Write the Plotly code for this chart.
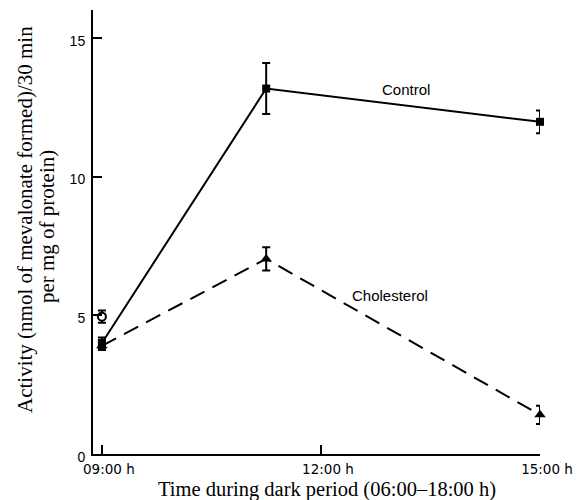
import plotly.graph_objects as go

# ---- data ----
time_h = [9.0, 11.25, 15.0]
control = [4.0, 13.17, 11.97]
control_err = [0.2, 0.92, 0.41]
cholesterol = [3.9, 7.03, 1.41]
cholesterol_err = [0.15, 0.42, 0.33]
zero_time = [9.0]
zero_value = [4.95]
zero_err = [0.22]

x_tick_vals = [9, 12, 15]
x_tick_text = ["09:00 h", "12:00 h", "15:00 h"]
y_tick_vals = [0, 5, 10, 15]

fig = go.Figure()

fig.add_trace(go.Scatter(
    x=time_h, y=control, mode="lines+markers", name="Control",
    line=dict(color="black", width=2),
    marker=dict(symbol="square", size=8, color="black"),
    error_y=dict(type="data", array=control_err, color="black", thickness=2, width=4),
    cliponaxis=False,
))
fig.add_trace(go.Scatter(
    x=time_h, y=cholesterol, mode="lines+markers", name="Cholesterol",
    line=dict(color="black", width=2, dash="16px,9px"),
    marker=dict(symbol="triangle-up", size=10, color="black"),
    error_y=dict(type="data", array=cholesterol_err, color="black", thickness=2, width=4),
    cliponaxis=False,
))
fig.add_trace(go.Scatter(
    x=zero_time, y=zero_value, mode="markers", name="Zero time",
    marker=dict(symbol="circle", size=8, color="white", line=dict(color="black", width=2)),
    error_y=dict(type="data", array=zero_err, color="black", thickness=2, width=4),
    cliponaxis=False,
))

label_font = dict(family="Liberation Sans", size=15, color="black")
fig.add_annotation(x=13.16, y=13.13, xref="x", yref="y", text="Control", showarrow=False,
                   font=label_font)
fig.add_annotation(x=12.95, y=5.70, xref="x", yref="y", text="Cholesterol", showarrow=False,
                   font=label_font)

serif = dict(family="Liberation Serif", size=21, color="black")
title_font = dict(family="Liberation Serif", size=20.5, color="black")
fig.add_annotation(xref="paper", yref="paper", x=0, y=0.527, xshift=-68, textangle=-90,
                   text="Activity (nmol of mevalonate formed)/30 min", showarrow=False,
                   xanchor="center", yanchor="middle", font=serif)
fig.add_annotation(xref="paper", yref="paper", x=0, y=0.511, xshift=-46, textangle=-90,
                   text="per mg of protein)", showarrow=False,
                   xanchor="center", yanchor="middle", font=serif)
fig.add_annotation(xref="paper", yref="paper", x=0.523, y=0, yshift=-35,
                   text="Time during dark period (06:00–18:00 h)", showarrow=False,
                   xanchor="center", yanchor="middle", font=title_font)

fig.update_layout(
    width=583, height=500,
    margin=dict(l=93, r=40, t=10, b=46),
    paper_bgcolor="white", plot_bgcolor="white",
    showlegend=False,
    font=dict(family="Liberation Sans", size=14, color="black"),
)
fig.update_xaxes(
    range=[8.878, 15.0], tickvals=x_tick_vals, ticktext=x_tick_text,
    ticks="inside", ticklen=9, tickwidth=2, tickcolor="black",
    showline=True, linewidth=2, linecolor="black",
    showgrid=False, zeroline=False, ticklabelstandoff=2, ticklabelshift=7,
    tickfont=dict(family="DejaVu Sans", size=13.5, color="black"),
)
fig.update_yaxes(
    range=[0, 16], tickvals=y_tick_vals,
    ticks="inside", ticklen=9, tickwidth=2, tickcolor="black",
    showline=True, linewidth=2, linecolor="black",
    showgrid=False, zeroline=False, ticklabelshift=3, ticklabelstandoff=3,
    tickfont=dict(family="Liberation Sans", size=14, color="black"),
)

fig.write_html("out.html")
